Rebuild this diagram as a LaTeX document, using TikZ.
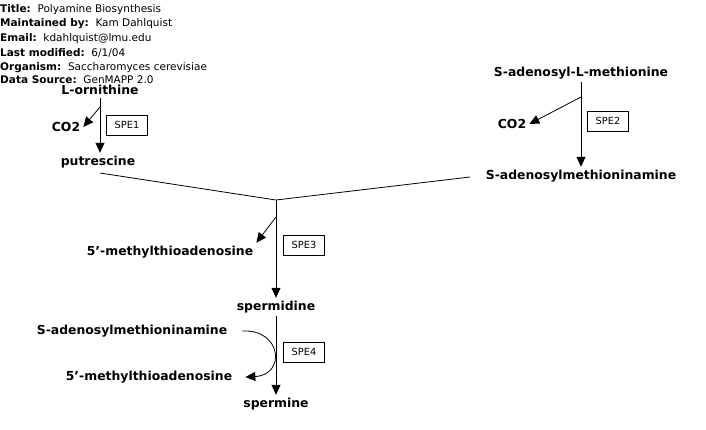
\documentclass[tikz,border=0pt]{standalone}
\usepackage{fontspec}
\setmainfont{DejaVu Sans}
\usetikzlibrary{arrows.meta,positioning}

\begin{document}
\begin{tikzpicture}[
  x=1pt, y=-1pt,
  >={Triangle[length=10pt,width=9pt]},
  mol/.style={font=\fontsize{12.4}{14}\selectfont\bfseries, inner sep=3pt},
  gene/.style={
    draw, line width=0.6pt, font=\fontsize{9.8}{11}\selectfont,
    minimum width=41pt, minimum height=20pt, inner sep=0pt
  },
  info/.style={font=\fontsize{10.5}{12}\selectfont, anchor=west, inner sep=0pt},
  conv/.style={->, line width=0.8pt},
  link/.style={line width=0.8pt}
]
\useasboundingbox (0,0) rectangle (706,429);

% ── Header ─────────────────────────────────────────────────────────────────
\node[info] (title)    at (0,10) {\textbf{Title:}~~Polyamine Biosynthesis};
\node[info] (maint)    at (0,24) {\textbf{Maintained by:}~~Kam Dahlquist};
\node[info] (email)    at (0,39) {\textbf{Email:}~~kdahlquist@lmu.edu};
\node[info] (modif)    at (0,53) {\textbf{Last modified:}~~6/1/04};
\node[info] (organism) at (0,68) {\textbf{Organism:}~~Saccharomyces cerevisiae};
\node[info] (source)   at (0,80) {\textbf{Data Source:}~~GenMAPP 2.0};

% ── Ornithine branch ───────────────────────────────────────────────────────
\node[mol] (orn)  at (100,90)  {L-ornithine};
\node[mol] (co2a) at (66,127)  {CO2};
\node[mol] (put)  at (98,162)  {putrescine};
\node[gene] (spe1) at (127,125) {SPE1};

% ── SAM branch ─────────────────────────────────────────────────────────────
\node[mol] (sam)   at (581,73)  {S-adenosyl-L-methionine};
\node[mol] (co2b)  at (512,124) {CO2};
\node[mol] (samin) at (581,176) {S-adenosylmethioninamine};
\node[gene] (spe2) at (608,121) {SPE2};

% ── Spermidine ─────────────────────────────────────────────────────────────
\node[mol] (mta1)  at (170,252) {5’-methylthioadenosine};
\node[mol] (spd)   at (276,307) {spermidine};
\node[gene] (spe3) at (304,245) {SPE3};

% ── Spermine ───────────────────────────────────────────────────────────────
\node[mol] (samin2) at (132,331) {S-adenosylmethioninamine};
\node[mol] (mta2)   at (149,377) {5’-methylthioadenosine};
\node[mol] (spm)    at (276,404) {spermine};
\node[gene] (spe4)  at (304,352) {SPE4};

% ── Branch points ──────────────────────────────────────────────────────────
\coordinate (br1)  at (100,107);
\coordinate (br2)  at (581,97);
\coordinate (join) at (276,200);
\coordinate (br3)  at (276,217);
\coordinate (putend) at (100,173);
\coordinate (saminend) at (470,177);

% ── Arrows ─────────────────────────────────────────────────────────────────
\draw[conv] (orn) -- (put.north -| orn);
\draw[conv] (br1) -- (co2a.east);

\draw[conv] (sam) -- (samin.north -| sam);
\draw[conv] (br2) -- (co2b.east);

\draw[link] (putend) -- (join) -- (saminend);
\draw[conv] (join) -- (spd);
\draw[conv] (br3) -- (mta1.north east);

\draw[conv] (spd) -- (spm);
\draw[conv] ([xshift=12pt]samin2.east) .. controls (282,329) and (286,375) .. ([xshift=10pt]mta2.east);

\end{tikzpicture}
\end{document}
